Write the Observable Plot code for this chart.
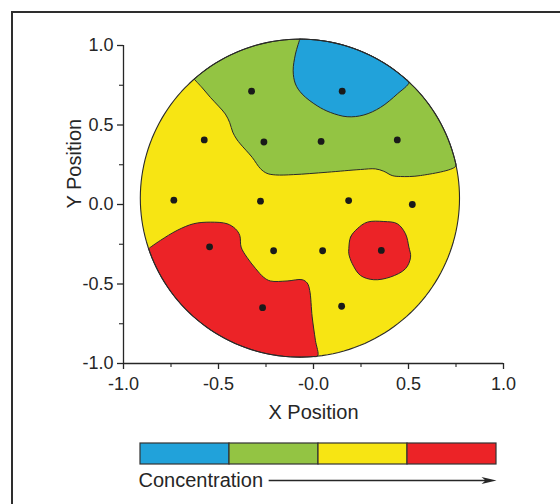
<!DOCTYPE html>
<html><head><meta charset="utf-8">
<script src="https://cdn.jsdelivr.net/npm/d3@7"></script>
<script src="https://cdn.jsdelivr.net/npm/@observablehq/plot@0.6"></script>
<style>
html,body{margin:0;padding:0;background:#fff;}
#page{position:relative;width:560px;height:504px;overflow:hidden;font-family:"Liberation Sans",Arial,Helvetica,sans-serif;}
#box{position:absolute;left:11px;top:11px;width:700px;height:700px;border-left:2px solid #2e2e2e;border-top:2px solid #2e2e2e;box-sizing:border-box;}
#chart{position:absolute;left:0;top:0;}
#legend{position:absolute;left:0;top:430px;}
</style></head>
<body><div id="page"><div id="box"></div><div id="chart"></div><div id="legend"></div></div>
<script>
// ---- data ----
const sampleX = [-0.326, 0.151, -0.575, -0.261, 0.040, 0.441, -0.735, -0.279, 0.185, 0.520, -0.547, -0.210, 0.048, 0.357, -0.268, 0.148];
const sampleY = [0.713, 0.713, 0.406, 0.393, 0.397, 0.406, 0.027, 0.021, 0.025, 0.000, -0.266, -0.291, -0.291, -0.289, -0.649, -0.640];

// wafer outline (centre and radii in data units)
const wafer = {cx: -0.0715, cy: 0.04, rx: 0.84, ry: 1.0};

// contour boundaries (data units), each running from one rim point to another
const greenEdge = [[-0.627,0.787],[-0.585,0.733],[-0.543,0.674],[-0.500,0.619],[-0.464,0.569],[-0.441,0.515],[-0.425,0.455],[-0.405,0.412],[-0.385,0.381],[-0.323,0.297],[-0.279,0.225],[-0.245,0.196],[-0.200,0.186],[-0.104,0.188],[0.072,0.203],[0.247,0.220],[0.326,0.224],[0.370,0.209],[0.414,0.182],[0.458,0.176],[0.563,0.182],[0.748,0.240]];
const blueEdge = [[-0.072,1.04],[-0.095,0.946],[-0.107,0.841],[-0.095,0.758],[-0.060,0.695],[0.019,0.621],[0.089,0.579],[0.177,0.552],[0.265,0.563],[0.353,0.611],[0.441,0.695],[0.502,0.768]];
const redEdge = [[-0.862,-0.272],[-0.806,-0.226],[-0.718,-0.163],[-0.631,-0.121],[-0.543,-0.111],[-0.455,-0.121],[-0.411,-0.153],[-0.388,-0.195],[-0.381,-0.268],[-0.351,-0.331],[-0.304,-0.404],[-0.262,-0.458],[-0.227,-0.481],[-0.139,-0.481],[-0.060,-0.473],[-0.033,-0.494],[-0.020,-0.540],[-0.007,-0.707],[0.010,-0.854],[0.022,-0.952]];
const redIsland = [[0.186,-0.278],[0.195,-0.205],[0.230,-0.153],[0.283,-0.111],[0.370,-0.107],[0.441,-0.121],[0.484,-0.184],[0.502,-0.268],[0.511,-0.331],[0.484,-0.404],[0.405,-0.456],[0.317,-0.473],[0.247,-0.446],[0.204,-0.372],[0.186,-0.310]];

// axis ticks
const xTicks = [-1, -0.5, 0, 0.5, 1];
const xTickText = ["-1.0", "-0.5", "-0.0", "0.5", "1.0"];
const yTicks = [-1, -0.5, 0, 0.5, 1];
const yTickText = ["-1.0", "-0.5", "0.0", "0.5", "1.0"];
const minorTicks = [-0.75, -0.25, 0.25, 0.75];

// legend
const levels = ["low", "medium-low", "medium-high", "high"];
const levelColors = ["#21a2da", "#93c443", "#f7e513", "#ec2327"];
const legendTitle = "Concentration";

// ---- geometry helpers ----
const TAU = 2 * Math.PI;
function rimPoint(t) { return [wafer.cx + wafer.rx * Math.cos(t), wafer.cy + wafer.ry * Math.sin(t)]; }
function angleOf(p) { return Math.atan2((p[1] - wafer.cy) / wafer.ry, (p[0] - wafer.cx) / wafer.rx); }
function arc(a0, a1) {
  const n = Math.max(2, Math.ceil(Math.abs(a1 - a0) / (Math.PI / 90)));
  return d3.range(n + 1).map(i => rimPoint(a0 + (a1 - a0) * i / n));
}
function region(edge, ccw) {
  const a0 = angleOf(edge[edge.length - 1]);
  let a1 = angleOf(edge[0]);
  if (ccw) { while (a1 <= a0) a1 += TAU; } else { while (a1 >= a0) a1 -= TAU; }
  return edge.concat(arc(a0, a1).slice(1));
}
const outline = arc(0, TAU);
const greenRegion = region(greenEdge, true);
const blueRegion = region(blueEdge, true);
const redRegion = region(redEdge, false);
const samples = sampleX.map((x, i) => ({x, y: sampleY[i]}));

const font = '"Liberation Sans", Arial, Helvetica, sans-serif';
const ink = "#262626";
const edgeInk = "#2a2a2a";
const px = d => d[0], py = d => d[1];

const chart = Plot.plot({
  width: 560, height: 430,
  marginLeft: 123, marginRight: 57, marginTop: 45, marginBottom: 67,
  x: {domain: [-1, 1]},
  y: {domain: [-1, 1]},
  style: {fontFamily: font, fontSize: "18px", background: "transparent", color: ink, overflow: "visible"},
  marks: [
    Plot.line(outline, {x: px, y: py, fill: levelColors[2], stroke: "none"}),
    Plot.line(greenRegion, {x: px, y: py, fill: levelColors[1], stroke: edgeInk, strokeWidth: 1, curve: "catmull-rom"}),
    Plot.line(blueRegion, {x: px, y: py, fill: levelColors[0], stroke: edgeInk, strokeWidth: 1, curve: "catmull-rom"}),
    Plot.line(redRegion, {x: px, y: py, fill: levelColors[3], stroke: edgeInk, strokeWidth: 1, curve: "catmull-rom"}),
    Plot.line(redIsland, {x: px, y: py, fill: levelColors[3], stroke: edgeInk, strokeWidth: 1, curve: "catmull-rom-closed"}),
    Plot.line(outline, {x: px, y: py, fill: "none", stroke: edgeInk, strokeWidth: 1.1}),
    Plot.dot(samples, {x: "x", y: "y", r: 3.4, fill: "#1a1a1a", stroke: "none"}),
    Plot.ruleX([-1], {stroke: ink, strokeWidth: 1.3}),
    Plot.ruleY([-1], {stroke: ink, strokeWidth: 1.3}),
    Plot.axisX({ticks: xTicks, tickFormat: d => xTickText[xTicks.indexOf(d)], tickSize: 6, tickPadding: 8, fontSize: 18, label: null, stroke: ink, strokeWidth: 1.3}),
    Plot.axisX({ticks: minorTicks, tickFormat: () => "", tickSize: 4, label: null, stroke: ink, strokeWidth: 1.1}),
    Plot.axisY({ticks: yTicks, tickFormat: d => yTickText[yTicks.indexOf(d)], tickSize: 6, tickPadding: 4, fontSize: 18, label: null, stroke: ink, strokeWidth: 1.3}),
    Plot.axisY({ticks: minorTicks, tickFormat: () => "", tickSize: 4, label: null, stroke: ink, strokeWidth: 1.1}),
    Plot.text(["X Position"], {frameAnchor: "bottom", dy: 55, lineAnchor: "bottom", fontSize: 20, fill: ink}),
    Plot.text(["Y Position"], {frameAnchor: "left", dx: -43, dy: 4, rotate: -90, lineAnchor: "bottom", fontSize: 20, fill: ink})
  ]
});
document.getElementById("chart").append(chart);

// legend: colour bar with "Concentration →"
const arrowSpan = [{from: 1.44, to: 4}];
const arrowHead = {draw(ctx) { ctx.moveTo(0, 0); ctx.lineTo(-15, -3.6); ctx.lineTo(-11, 0); ctx.lineTo(-15, 3.6); ctx.closePath(); }};
const legend = Plot.plot({
  width: 560, height: 74,
  marginLeft: 140, marginRight: 64, marginTop: 13, marginBottom: 40,
  x: {domain: [0, levels.length], axis: null},
  y: {domain: [0, 1], axis: null},
  color: {type: "identity"},
  style: {fontFamily: font, fontSize: "20px", background: "transparent", color: ink, overflow: "visible"},
  marks: [
    Plot.rect(levels, {x1: (d, i) => i, x2: (d, i) => i + 1, y1: 0, y2: 1, fill: (d, i) => levelColors[i], stroke: "#333", strokeWidth: 1.2}),
    Plot.text([legendTitle], {frameAnchor: "bottom-left", dx: -2, dy: 22, textAnchor: "start", lineAnchor: "bottom", fontSize: 20, fill: ink}),
    Plot.link(arrowSpan, {x1: "from", x2: d => d.to - 0.08, y1: 0, y2: 0, dy: 16, stroke: ink, strokeWidth: 1.3}),
    Plot.dot(arrowSpan, {x: "to", y: 0, dy: 16, symbol: arrowHead, fill: ink, stroke: "none"})
  ]
});
document.getElementById("legend").append(legend);
</script>
</body></html>
